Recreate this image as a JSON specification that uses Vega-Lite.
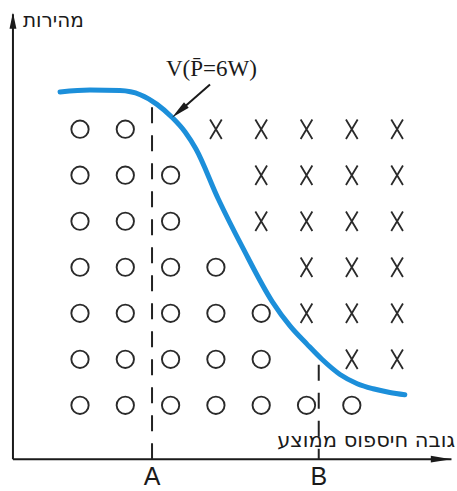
{
  "$schema": "https://vega.github.io/schema/vega-lite/v6.json",
  "width": 457,
  "height": 491,
  "padding": 0,
  "autosize": {"type": "fit", "contains": "padding"},
  "background": "white",
  "config": {"view": {"stroke": null}},
  "datasets": {
    "curve": [
      {"x": 0.56, "y": 7.81}, {"x": 1.22, "y": 7.85}, {"x": 1.88, "y": 7.84},
      {"x": 2.33, "y": 7.75}, {"x": 2.70, "y": 7.54}, {"x": 3.03, "y": 7.26},
      {"x": 3.32, "y": 6.94}, {"x": 3.56, "y": 6.57}, {"x": 4.05, "y": 5.49},
      {"x": 4.60, "y": 4.41}, {"x": 5.24, "y": 3.26}, {"x": 5.64, "y": 2.72},
      {"x": 6.01, "y": 2.33}, {"x": 6.34, "y": 2.00}, {"x": 6.74, "y": 1.67},
      {"x": 7.12, "y": 1.47}, {"x": 7.47, "y": 1.36}, {"x": 7.84, "y": 1.28},
      {"x": 8.17, "y": 1.23}
    ],
    "tests": [
      {"x": 1, "y": 7, "result": "O"}, {"x": 2, "y": 7, "result": "O"},
      {"x": 4, "y": 7, "result": "X"}, {"x": 5, "y": 7, "result": "X"}, {"x": 6, "y": 7, "result": "X"}, {"x": 7, "y": 7, "result": "X"}, {"x": 8, "y": 7, "result": "X"},
      {"x": 1, "y": 6, "result": "O"}, {"x": 2, "y": 6, "result": "O"}, {"x": 3, "y": 6, "result": "O"},
      {"x": 5, "y": 6, "result": "X"}, {"x": 6, "y": 6, "result": "X"}, {"x": 7, "y": 6, "result": "X"}, {"x": 8, "y": 6, "result": "X"},
      {"x": 1, "y": 5, "result": "O"}, {"x": 2, "y": 5, "result": "O"}, {"x": 3, "y": 5, "result": "O"},
      {"x": 5, "y": 5, "result": "X"}, {"x": 6, "y": 5, "result": "X"}, {"x": 7, "y": 5, "result": "X"}, {"x": 8, "y": 5, "result": "X"},
      {"x": 1, "y": 4, "result": "O"}, {"x": 2, "y": 4, "result": "O"}, {"x": 3, "y": 4, "result": "O"}, {"x": 4, "y": 4, "result": "O"},
      {"x": 6, "y": 4, "result": "X"}, {"x": 7, "y": 4, "result": "X"}, {"x": 8, "y": 4, "result": "X"},
      {"x": 1, "y": 3, "result": "O"}, {"x": 2, "y": 3, "result": "O"}, {"x": 3, "y": 3, "result": "O"}, {"x": 4, "y": 3, "result": "O"}, {"x": 5, "y": 3, "result": "O"},
      {"x": 6, "y": 3, "result": "X"}, {"x": 7, "y": 3, "result": "X"}, {"x": 8, "y": 3, "result": "X"},
      {"x": 1, "y": 2, "result": "O"}, {"x": 2, "y": 2, "result": "O"}, {"x": 3, "y": 2, "result": "O"}, {"x": 4, "y": 2, "result": "O"}, {"x": 5, "y": 2, "result": "O"},
      {"x": 7, "y": 2, "result": "X"}, {"x": 8, "y": 2, "result": "X"},
      {"x": 1, "y": 1, "result": "O"}, {"x": 2, "y": 1, "result": "O"}, {"x": 3, "y": 1, "result": "O"}, {"x": 4, "y": 1, "result": "O"},
      {"x": 5, "y": 1, "result": "O"}, {"x": 6, "y": 1, "result": "O"}, {"x": 7, "y": 1, "result": "O"}
    ],
    "limits": [
      {"x": 2.59, "y": 7.48, "y2": -0.17, "label": "A", "ly": -0.56},
      {"x": 6.27, "y": 1.88, "y2": -0.17, "label": "B", "ly": -0.56}
    ],
    "axisV": [{"x": -0.48, "y": -0.17, "y2": 9.5}],
    "axisH": [{"x": -0.48, "x2": 9.2, "y": -0.17}],
    "headV": [{"x": -0.48, "y": 9.36}],
    "headH": [{"x": 8.97, "y": -0.17}],
    "yTitle": [{"x": -0.26, "y": 9.35, "text": "מהירות"}],
    "xTitle": [{"x": 9.28, "y": 0.22, "text": "גובה חיספוס ממוצע"}],
    "note": [{"x": 3.9, "y": 8.3, "text": "V(P̄=6W)"}],
    "pointer": [{"x": 3.87, "y": 7.97, "x2": 3.17, "y2": 7.37}],
    "pointerHead": [{"x": 3.19, "y": 7.39}]
  },
  "encoding": {
    "x": {"field": "x", "type": "quantitative", "scale": {"domain": [-0.766, 9.322], "nice": false, "zero": false}, "axis": null},
    "y": {"field": "y", "type": "quantitative", "scale": {"domain": [-0.797, 9.808], "nice": false, "zero": false}, "axis": null}
  },
  "layer": [
    {
      "data": {"name": "axisV"},
      "mark": {"type": "rule", "stroke": "#1a1a1a", "strokeWidth": 2},
      "encoding": {"y2": {"field": "y2"}}
    },
    {
      "data": {"name": "axisH"},
      "mark": {"type": "rule", "stroke": "#1a1a1a", "strokeWidth": 2},
      "encoding": {"x2": {"field": "x2"}}
    },
    {
      "data": {"name": "headV"},
      "mark": {"type": "point", "shape": "M0,-1L0.42,1L-0.42,1Z", "size": 270, "filled": true, "color": "#1a1a1a", "opacity": 1}
    },
    {
      "data": {"name": "headH"},
      "mark": {"type": "point", "shape": "M1,0L-1,-0.32L-1,0.32Z", "size": 420, "filled": true, "color": "#1a1a1a", "opacity": 1}
    },
    {
      "data": {"name": "limits"},
      "mark": {"type": "rule", "stroke": "#222", "strokeWidth": 2, "strokeDash": [16, 12]},
      "encoding": {"y2": {"field": "y2"}}
    },
    {
      "data": {"name": "limits"},
      "mark": {"type": "text", "font": "Liberation Sans", "fontSize": 25, "color": "#1a1a1a", "baseline": "middle", "align": "center"},
      "encoding": {"y": {"field": "ly", "type": "quantitative"}, "text": {"field": "label"}}
    },
    {
      "data": {"name": "tests"},
      "transform": [{"filter": "datum.result === 'O'"}],
      "mark": {"type": "point", "shape": "circle", "size": 300, "filled": false, "stroke": "#2a2a2a", "strokeWidth": 1.9, "opacity": 1}
    },
    {
      "data": {"name": "tests"},
      "transform": [{"filter": "datum.result === 'X'"}],
      "mark": {"type": "point", "shape": "M-0.6,-1L0.6,1M0.6,-1L-0.6,1", "size": 380, "filled": false, "stroke": "#2a2a2a", "strokeWidth": 1.8, "opacity": 1}
    },
    {
      "data": {"name": "curve"},
      "mark": {"type": "line", "interpolate": "monotone", "stroke": "#1c8fda", "strokeWidth": 5, "strokeCap": "round"}
    },
    {
      "data": {"name": "pointer"},
      "mark": {"type": "rule", "stroke": "#1a1a1a", "strokeWidth": 2},
      "encoding": {"x2": {"field": "x2"}, "y2": {"field": "y2"}}
    },
    {
      "data": {"name": "pointerHead"},
      "mark": {"type": "point", "shape": "M0,-1L0.38,1L-0.38,1Z", "size": 360, "angle": 229, "filled": true, "color": "#1a1a1a", "opacity": 1}
    },
    {
      "data": {"name": "note"},
      "mark": {"type": "text", "font": "Liberation Serif", "fontSize": 23, "color": "#1a1a1a", "align": "center", "baseline": "middle"},
      "encoding": {"text": {"field": "text"}}
    },
    {
      "data": {"name": "yTitle"},
      "mark": {"type": "text", "font": "DejaVu Sans", "fontSize": 20, "color": "#1a1a1a", "align": "left", "baseline": "middle"},
      "encoding": {"text": {"field": "text"}}
    },
    {
      "data": {"name": "xTitle"},
      "mark": {"type": "text", "font": "DejaVu Sans", "fontSize": 21, "color": "#1a1a1a", "align": "right", "baseline": "middle"},
      "encoding": {"text": {"field": "text"}}
    }
  ]
}
